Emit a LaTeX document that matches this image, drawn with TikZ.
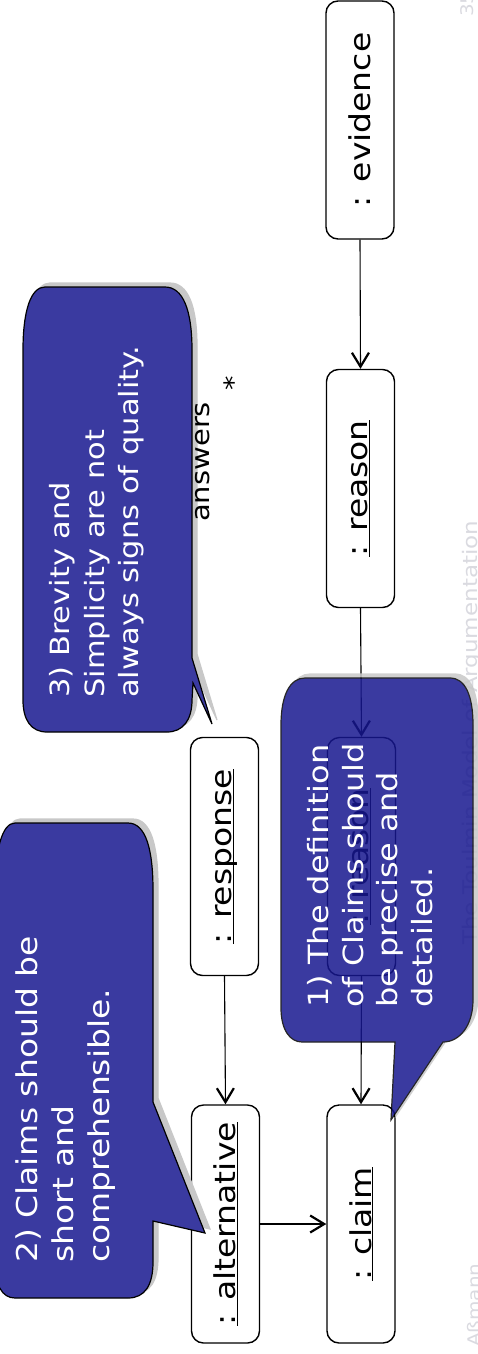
\documentclass[tikz,border=0pt]{standalone}
\usepackage{fontspec}
\setmainfont{DejaVu Sans}
\usepackage{graphicx}
\usetikzlibrary{arrows.meta}

\definecolor{noteblue}{RGB}{58,58,160}
\definecolor{notedeep}{RGB}{23,23,143}
\definecolor{noteshadow}{RGB}{200,200,200}
\definecolor{footgray}{RGB}{218,218,224}

% underlined object name, no depth
\newcommand{\uname}[1]{\underline{\raisebox{0pt}[\height][0pt]{#1}}}
% text turned to read upwards
\newcommand{\vlabel}[1]{\rotatebox{90}{\scalebox{1}[0.87]{#1}}}

\begin{document}
\begin{tikzpicture}[
    x=1pt, y=-1pt,
    objbox/.style={draw, line width=1.4pt, rounded corners=12pt, fill=white, inner sep=0pt,
                   minimum width=68pt, minimum height=238pt, font=\fontsize{33}{40}\selectfont},
    link/.style={line width=1.1pt, -{Straight Barb[length=14pt, width=17pt, line width=2.2pt]}},
    note/.style={fill=noteblue, draw=black, line width=1.2pt,
                 preaction={fill=noteshadow, draw=noteshadow, line width=1.2pt,
                            transform canvas={xshift=5pt, yshift=4pt}}},
    vtxt/.style={rotate=90, yscale=0.87, inner sep=0pt},
    notetext/.style={vtxt, anchor=north west, align=left, text=white},
    footer/.style={vtxt, anchor=base west, text=footgray}
  ]
  \useasboundingbox (0,0) rectangle (477,1354);

  % slide footer
  \node[footer, font=\fontsize{23}{23}\selectfont] (title) at (477,945) {The Toulmin Model of Argumentation};
  \node[footer, font=\fontsize{20}{20}\selectfont] (author) at (480,1347) {Aßmann};
  \node[footer, font=\fontsize{20}{20}\selectfont] (page) at (473,17) {35};

  % note 3
  \path[note] (45,287) -- (165,287) .. controls (183,287) and (192,310) .. (192,350)
    -- (192,658) -- (212,724) -- (193,683) -- (192,700)
    .. controls (192,720) and (183,732) .. (167,732) -- (47,732)
    .. controls (31,732) and (23,720) .. (23,700) -- (23,350)
    .. controls (23,310) and (31,287) .. (45,287) -- cycle;
  \node[notetext, font=\fontsize{30.5}{40}\selectfont] (note3) at (49,698)
    {3) Brevity and\\Simplicity are not\\always signs of quality.};

  \node[vtxt, anchor=base west, font=\fontsize{29}{29}\selectfont] (role) at (209,522) {answers};
  \node[vtxt, font=\fontsize{29}{29}\selectfont] (mult) at (233,383) {*};

  % objects
  \node[objbox] (alt) at (225.5,1224) {\vlabel{\uname{: alternative}}};
  \node[objbox] (claim) at (361,1224) {\vlabel{\uname{: claim}}};
  \node[objbox] (resp) at (224.5,856.5) {\vlabel{\uname{: response}}};
  \node[objbox] (reasonb) at (361.5,856.5) {\vlabel{\uname{: reason}}};
  \node[objbox] (reason) at (360.5,488.5) {\vlabel{\uname{: reason}}};
  \node[objbox] (evid) at (360,120) {\vlabel{: evidence}};

  \draw[link] (evid.south) -- (reason.north);
  \draw[link] (reason.south) -- (reasonb.north);
  \draw[link] (reasonb.south) -- (claim.north);
  \draw[link] (resp.south) -- (alt.north);
  \draw[link] (alt) -- (claim);

  % note 1, lets the box behind show through
  \begin{scope}[transparency group, opacity=0.85]
    \path[note, fill=notedeep] (305,678) -- (450,678) .. controls (465,678) and (473,695) .. (473,725)
      -- (473,1000) .. controls (473,1025) and (460,1042) .. (443,1042)
      -- (391,1120) -- (395,1042) -- (302,1042)
      .. controls (290,1042) and (281,1030) .. (281,1008) -- (281,725)
      .. controls (281,695) and (290,678) .. (305,678) -- cycle;
  \end{scope}
  \node[notetext, font=\fontsize{32}{40}\selectfont] (note1) at (307,1008)
    {1) The definition\\of Claims should\\be precise and\\detailed.};

  % note 2
  \path[note] (15,823) -- (128,823) .. controls (146,823) and (153,850) .. (153,890)
    -- (153,1102) -- (205,1233) -- (153,1221) -- (153,1262)
    .. controls (153,1285) and (145,1298) .. (128,1298) -- (15,1298)
    .. controls (2,1298) and (-5,1285) .. (-5,1262) -- (-5,890)
    .. controls (-5,850) and (2,823) .. (15,823) -- cycle;
  \node[notetext, font=\fontsize{33}{41}\selectfont] (note2) at (16,1263)
    {2) Claims should be\\short and\\comprehensible.};
\end{tikzpicture}
\end{document}
